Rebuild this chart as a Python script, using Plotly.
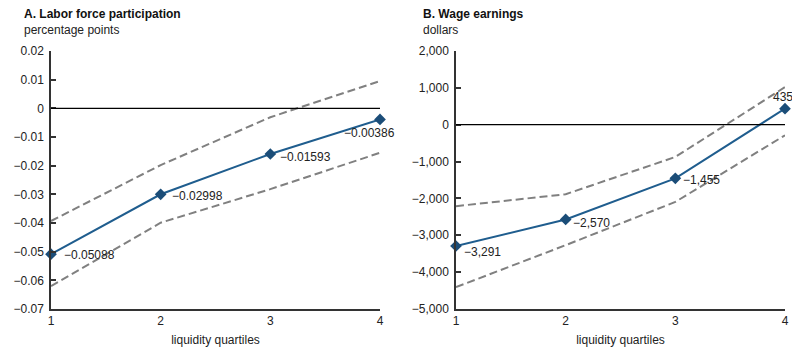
import plotly.graph_objects as go

quartiles = [1, 2, 3, 4]

# Panel A: labor force participation (percentage points)
lfp_est = [-0.05088, -0.02998, -0.01593, -0.00386]
lfp_upper = [-0.0393, -0.0198, -0.0031, 0.0095]
lfp_lower = [-0.0620, -0.0399, -0.0282, -0.0155]
lfp_labels = ["−0.05088", "−0.02998", "−0.01593", "−0.00386"]
lfp_ticks = [0.02, 0.01, 0, -0.01, -0.02, -0.03, -0.04, -0.05, -0.06, -0.07]

# Panel B: wage earnings (dollars)
wage_est = [-3291, -2570, -1455, 435]
wage_upper = [-2210, -1886, -875, 1020]
wage_lower = [-4407, -3268, -2095, -287]
wage_labels = ["−3,291", "−2,570", "−1,455", "435"]
wage_ticks = [2000, 1000, 0, -1000, -2000, -3000, -4000, -5000]

BLUE = "#1f5d8e"
MARK = "#1b4d78"
GRAY = "#808080"
AXIS = "#333333"
FONT = "Liberation Sans, Arial, sans-serif"

# page body has an 8px margin; figure sized to fit the 800x358 window
OFF = 8
W, H = 800 - 2 * OFF, 358 - 2 * OFF


def fx(px):
    return (px - OFF) / W


def fy(py):
    return 1 - (py - OFF) / H


fig = go.Figure()


def add_panel(xa, ya, est, up, lo):
    for band in (up, lo):
        fig.add_trace(go.Scatter(x=quartiles, y=band, mode="lines",
                                 line=dict(color=GRAY, width=2, dash="8px,4px"),
                                 xaxis=xa, yaxis=ya, showlegend=False,
                                 hoverinfo="skip", cliponaxis=False))
    fig.add_trace(go.Scatter(x=quartiles, y=est, mode="lines+markers",
                             line=dict(color=BLUE, width=2),
                             marker=dict(symbol="diamond", size=9, color=MARK),
                             xaxis=xa, yaxis=ya, showlegend=False, cliponaxis=False))


add_panel("x", "y", lfp_est, lfp_upper, lfp_lower)
add_panel("x2", "y2", wage_est, wage_upper, wage_lower)

dom_y = [fy(309), fy(51)]

axis_common = dict(showline=True, linecolor=AXIS, linewidth=1.5, showgrid=False,
                   zeroline=False, automargin=False,
                   tickfont=dict(family=FONT, size=12, color="#222"))

fig.update_layout(
    width=W, height=H, margin=dict(l=0, r=0, t=0, b=0, autoexpand=False),
    paper_bgcolor="white", plot_bgcolor="white",
    font=dict(family=FONT, size=12, color="#222"),
    xaxis=dict(domain=[fx(51), fx(380)], range=[1, 4], tickvals=quartiles,
               ticks="", anchor="y",
               title=dict(text="liquidity quartiles", font=dict(size=12), standoff=8),
               **axis_common),
    yaxis=dict(domain=dom_y, range=[-0.07, 0.02], tickvals=lfp_ticks,
               ticks="inside", ticklen=5, tickcolor=AXIS, tickwidth=1.5,
               tickformat=".2~f", anchor="x", ticklabelstandoff=3, **axis_common),
    xaxis2=dict(domain=[fx(456), fx(785)], range=[1, 4], tickvals=quartiles,
                ticks="", anchor="y2",
                title=dict(text="liquidity quartiles", font=dict(size=12), standoff=8),
                **axis_common),
    yaxis2=dict(domain=dom_y, range=[-5000, 2000], tickvals=wage_ticks,
                ticks="inside", ticklen=5, tickcolor=AXIS, tickwidth=1.5,
                tickformat=",d", anchor="x2", ticklabelstandoff=3, **axis_common),
)

# zero lines
fig.add_shape(type="line", xref="x", yref="y", x0=1, x1=4, y0=0, y1=0,
              line=dict(color="black", width=1.3))
fig.add_shape(type="line", xref="x2", yref="y2", x0=1, x1=4, y0=0, y1=0,
              line=dict(color="black", width=1.3))

# data labels
lfp_pos = [(11, -1, "left"), (9, -2, "left"), (8, -3, "left"), (-11, -14, "center")]
for q, v, t, (dx, dy, xa) in zip(quartiles, lfp_est, lfp_labels, lfp_pos):
    fig.add_annotation(x=q, y=v, xref="x", yref="y", text=t, showarrow=False,
                       xanchor=xa, yanchor="middle", xshift=dx, yshift=dy,
                       font=dict(size=12, color="#222"))
wage_pos = [(6, -6, "left"), (5, -4, "left"), (6, -2, "left"), (-2, 12, "center")]
for q, v, t, (dx, dy, xa) in zip(quartiles, wage_est, wage_labels, wage_pos):
    fig.add_annotation(x=q, y=v, xref="x2", yref="y2", text=t, showarrow=False,
                       xanchor=xa, yanchor="middle", xshift=dx, yshift=dy,
                       font=dict(size=12, color="#222"))

# panel titles
for xp, title, unit in [(22, "A. Labor force participation", "percentage points"),
                        (421, "B. Wage earnings", "dollars")]:
    fig.add_annotation(x=fx(xp), y=fy(14), xref="paper", yref="paper",
                       text="<b>" + title + "</b>", showarrow=False,
                       xanchor="left", yanchor="middle",
                       font=dict(size=12, color="#111"))
    fig.add_annotation(x=fx(xp), y=fy(30), xref="paper", yref="paper",
                       text=unit, showarrow=False, xanchor="left", yanchor="middle",
                       font=dict(size=12, color="#222"))

fig.write_html("out.html")
